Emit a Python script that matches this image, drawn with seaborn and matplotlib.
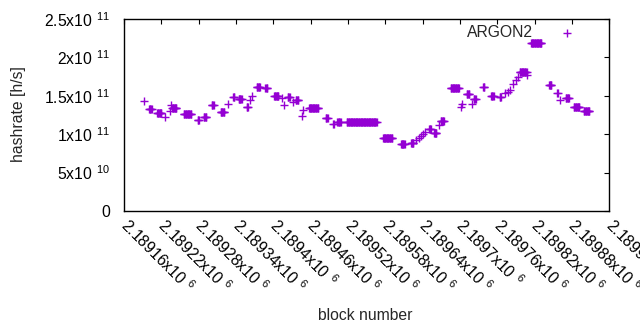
import matplotlib
matplotlib.use("Agg")
import matplotlib.pyplot as plt
import matplotlib.transforms as mtransforms
import numpy as np
import pandas as pd
import seaborn as sns

# runs of consecutive blocks sharing one hashrate estimate: first block, last block, h/s
run_first = [2189192, 2189200, 2189213, 2189225, 2189233, 2189235, 2189237, 2189256,
             2189278, 2189288, 2189301, 2189315, 2189327, 2189335, 2189344, 2189357,
             2189362, 2189365, 2189373, 2189387, 2189401, 2189413, 2189417, 2189423,
             2189431, 2189436, 2189446, 2189447, 2189457, 2189484, 2189496, 2189503,
             2189518, 2189576, 2189605, 2189621, 2189630, 2189634, 2189637, 2189640,
             2189643, 2189650, 2189658, 2189666, 2189669, 2189685, 2189701, 2189703,
             2189711, 2189719, 2189722, 2189737, 2189750, 2189764, 2189773, 2189777,
             2189780, 2189786, 2189790, 2189793, 2189796, 2189808, 2189814, 2189843,
             2189856, 2189860, 2189870, 2189883, 2189899]
run_last = [2189192, 2189204, 2189220, 2189225, 2189233, 2189235, 2189244, 2189268,
            2189280, 2189292, 2189304, 2189321, 2189327, 2189337, 2189349, 2189359,
            2189362, 2189365, 2189378, 2189390, 2189408, 2189413, 2189417, 2189426,
            2189431, 2189440, 2189446, 2189447, 2189472, 2189487, 2189497, 2189508,
            2189566, 2189591, 2189611, 2189625, 2189630, 2189634, 2189637, 2189640,
            2189643, 2189653, 2189662, 2189666, 2189674, 2189698, 2189701, 2189703,
            2189715, 2189719, 2189725, 2189739, 2189754, 2189766, 2189773, 2189777,
            2189780, 2189786, 2189790, 2189793, 2189807, 2189808, 2189831, 2189847,
            2189857, 2189860, 2189875, 2189892, 2189908]
run_rate = [1.437e11, 1.331e11, 1.270e11, 1.228e11, 1.300e11, 1.380e11, 1.337e11, 1.263e11,
            1.185e11, 1.228e11, 1.374e11, 1.293e11, 1.400e11, 1.490e11, 1.460e11, 1.360e11,
            1.440e11, 1.500e11, 1.615e11, 1.596e11, 1.500e11, 1.470e11, 1.380e11, 1.490e11,
            1.420e11, 1.446e11, 1.240e11, 1.315e11, 1.336e11, 1.217e11, 1.132e11, 1.162e11,
            1.155e11, 0.956e11, 0.867e11, 0.888e11, 0.923e11, 0.950e11, 0.976e11, 1.000e11,
            1.030e11, 1.067e11, 1.015e11, 1.120e11, 1.170e11, 1.600e11, 1.354e11, 1.390e11,
            1.524e11, 1.400e11, 1.460e11, 1.610e11, 1.500e11, 1.480e11, 1.537e11, 1.550e11,
            1.576e11, 1.655e11, 1.710e11, 1.746e11, 1.815e11, 1.770e11, 2.186e11, 1.635e11,
            1.537e11, 1.446e11, 1.472e11, 1.358e11, 1.298e11]

x_ticks = [2189160, 2189220, 2189280, 2189340, 2189400, 2189460, 2189520,
           2189580, 2189640, 2189700, 2189760, 2189820, 2189880, 2189940]
x_ticklabels = ["2.18916x", "2.18922x", "2.18928x", "2.18934x", "2.1894x",
                "2.18946x", "2.18952x", "2.18958x", "2.18964x", "2.1897x",
                "2.18976x", "2.18982x", "2.18988x", "2.18994x"]
x_exponent = "6"
y_ticks = [0, 5e10, 1e11, 1.5e11, 2e11, 2.5e11]
y_ticklabels = ["0", "5x", "1x", "1.5x", "2x", "2.5x"]
y_exponents = ["", "10", "11", "11", "11", "11"]

blocks = []
rates = []
for first, last, rate in zip(run_first, run_last, run_rate):
    for b in range(first, last + 1):
        blocks.append(b)
        rates.append(rate)
df = pd.DataFrame({"block": blocks, "hashrate": rates})


def sup(base, exp):
    # gnuplot style "x10 ^exp" with a gap before the exponent
    if not exp:
        return base
    return base + r"$10^{\enspace " + exp + "}$"


sns.set_style("white")
plt.rcParams["font.family"] = ["Liberation Sans", "DejaVu Sans"]
plt.rcParams["mathtext.default"] = "regular"
fs = 11.3

fig = plt.figure(figsize=(6.4, 3.3), dpi=100)
ax = fig.add_axes([0.194, 0.361, 0.758, 0.581])

sns.scatterplot(data=df, x="block", y="hashrate", marker="+", color="#9400d3",
                s=28, linewidth=1.0, label="ARGON2", ax=ax)

ax.set_xlim(x_ticks[0], x_ticks[-1])
ax.set_ylim(0, 2.5e11)
ax.set_xticks(x_ticks)
ax.set_xticklabels([sup(t, x_exponent) for t in x_ticklabels], rotation=-45,
                   ha="left", va="top", rotation_mode="anchor", fontsize=fs)
ax.set_yticks(y_ticks)
ax.set_yticklabels([sup(t, e) for t, e in zip(y_ticklabels, y_exponents)], fontsize=fs)
ax.tick_params(direction="in", length=3.8, width=0.8, top=True, right=True,
               colors="black")
ax.tick_params(axis="x", pad=3)
ax.tick_params(axis="y", pad=10)
shift = mtransforms.ScaledTranslation(0.06, 0, fig.dpi_scale_trans)
for lab in ax.get_xticklabels():
    lab.set_transform(lab.get_transform() + shift)
for sp in ax.spines.values():
    sp.set_visible(True)
    sp.set_color("black")
    sp.set_linewidth(1.0)

ax.set_xlabel("block number", fontsize=fs)
ax.xaxis.set_label_coords(0.497, -0.505)
ax.set_ylabel("hashrate [h/s]", fontsize=fs)
ax.yaxis.set_label_coords(-0.203, 0.505)

ax.legend(loc="upper right", bbox_to_anchor=(0.961, 0.97), frameon=False,
          markerfirst=False, handlelength=3.0, handletextpad=0.67,
          borderpad=0, borderaxespad=0, fontsize=fs)

fig.savefig("out.png", dpi=100)
